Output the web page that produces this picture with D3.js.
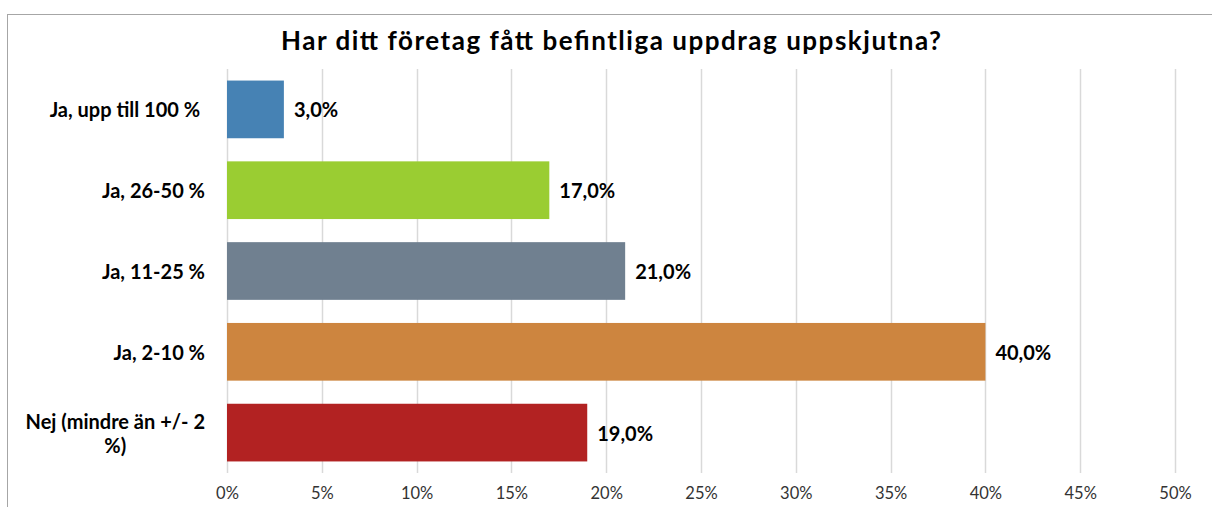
<!DOCTYPE html>
<html>
<head>
<meta charset="utf-8">
<script src="https://cdn.jsdelivr.net/npm/d3@7"></script>
<style>
  html, body { margin: 0; padding: 0; background: #fff; }
  svg { display: block; font-family: Lato, "Open Sans", sans-serif; }
</style>
</head>
<body>
<svg id="chart" width="1212" height="507"></svg>
<script>
// Data
const categories = ["Ja, upp till 100 % ", "Ja, 26-50 %", "Ja, 11-25 %", "Ja, 2-10 %", "Nej (mindre än +/- 2 %)"];
const values = [3, 17, 21, 40, 19];
const barColors = ["#4682B4", "#9ACD32", "#708090", "#CD853F", "#B22222"];
const xTicks = [0, 5, 10, 15, 20, 25, 30, 35, 40, 45, 50];
const title = "Har ditt företag fått befintliga uppdrag uppskjutna?";

const margin = { top: 69, right: 37, bottom: 34, left: 227 },
      width = 1212 - margin.left - margin.right,
      height = 507 - margin.top - margin.bottom;

const svg = d3.select("#chart");

// chart border (runs off the right and bottom edge)
svg.append("rect")
    .attr("x", 7.5)
    .attr("y", 14.5)
    .attr("width", 1400)
    .attr("height", 700)
    .attr("fill", "none")
    .attr("stroke", "#a6a6a6")
    .attr("stroke-width", 1);

// title
svg.append("text")
    .attr("x", 611)
    .attr("y", 50)
    .attr("text-anchor", "middle")
    .attr("textLength", 660)
    .attr("lengthAdjust", "spacing")
    .style("font-size", "26px")
    .style("font-weight", "bold")
    .style("fill", "#000")
    .text(title);

const g = svg.append("g")
    .attr("transform", `translate(${margin.left},${margin.top})`);

const x = d3.scaleLinear()
    .domain([0, 50])
    .range([0, width]);

const y = d3.scaleBand()
    .domain(categories)
    .range([0, height])
    .paddingInner(0.286)
    .paddingOuter(0.143);

// vertical gridlines
g.selectAll("line.grid")
    .data(xTicks)
    .enter()
    .append("line")
    .attr("class", "grid")
    .attr("x1", d => Math.round(x(d)) + 0.5)
    .attr("x2", d => Math.round(x(d)) + 0.5)
    .attr("y1", 0)
    .attr("y2", height)
    .attr("stroke", "#d9d9d9")
    .attr("stroke-width", 1.5);

// bars
g.selectAll("rect.bar")
    .data(values)
    .enter()
    .append("rect")
    .attr("class", "bar")
    .attr("x", x(0))
    .attr("y", (d, i) => y(categories[i]))
    .attr("width", d => x(d) - x(0))
    .attr("height", y.bandwidth())
    .attr("fill", (d, i) => barColors[i]);

// value labels
const fmt = d => d3.format(".1f")(d).replace(".", ",") + "%";
g.selectAll("text.value")
    .data(values)
    .enter()
    .append("text")
    .attr("class", "value")
    .attr("x", d => x(d) + 10)
    .attr("y", (d, i) => y(categories[i]) + y.bandwidth() / 2 + 8)
    .style("font-size", "20px")
    .style("font-weight", "bold")
    .style("fill", "#000")
    .text(fmt);

// x axis
const xAxis = g.append("g")
    .attr("transform", `translate(0,${height})`)
    .call(d3.axisBottom(x).tickValues(xTicks).tickFormat(d => d + "%").tickSize(0).tickPadding(14));
xAxis.select(".domain").remove();
xAxis.selectAll("text")
    .style("font-family", "Lato, sans-serif")
    .style("font-size", "16.5px")
    .style("fill", "#333");

// category labels, wrapped like the original when too long
const labelRight = 205 - margin.left;
const maxLabelWidth = 196;
categories.forEach((cat, i) => {
    const cy = y(cat) + y.bandwidth() / 2;
    const t = g.append("text")
        .attr("y", cy + 8)
        .style("font-size", "20px")
        .style("font-weight", "bold")
        .style("fill", "#000")
        .style("white-space", "pre")
        .attr("text-anchor", "end")
        .attr("x", labelRight)
        .text(cat);
    if (t.node().getComputedTextLength() > maxLabelWidth) {
        const words = cat.split(" ");
        const last = words.pop();
        const first = words.join(" ");
        t.text(first).attr("y", cy - 4);
        const w1 = t.node().getComputedTextLength();
        g.append("text")
            .attr("x", labelRight - w1 / 2)
            .attr("y", cy + 20)
            .attr("text-anchor", "middle")
            .style("font-size", "20px")
            .style("font-weight", "bold")
            .style("fill", "#000")
            .text(last);
    }
});
</script>
</body>
</html>
